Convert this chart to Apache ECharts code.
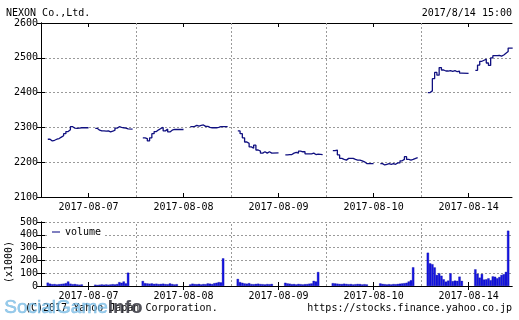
<!DOCTYPE html>
<html><head><meta charset="utf-8">
<script src="https://cdn.jsdelivr.net/npm/echarts@6/dist/echarts.min.js"></script>
<style>html,body{margin:0;padding:0;background:#fff}#c{width:519px;height:320px}</style>
</head><body><div id="c"></div>
<script>
const days = ['2017-08-07','2017-08-08','2017-08-09','2017-08-10','2017-08-14'];
const priceTicks = [2100,2200,2300,2400,2500,2600];
const volumeTicks = [0,100,200,300,400,500];
// prices sampled every 10 minutes, morning session 9:00-11:30
const priceAM = [
  [2266,2261,2263,2266,2268,2272,2276,2282,2288,2293,2302,2298,2297,2298,2299,2299],
  [2270,2268,2261,2270,2282,2288,2293,2297,2300,2290,2295,2287,2292,2294,2294,2294],
  [2290,2282,2270,2258,2254,2244,2240,2249,2235,2232,2226,2230,2226,2230,2226,2227],
  [2233,2235,2221,2211,2208,2206,2211,2211,2211,2208,2206,2206,2204,2201,2196,2196],
  [2400,2405,2440,2458,2450,2472,2465,2462,2462,2463,2461,2463,2460,2462,2456,2455]
];
// afternoon session 12:30-15:00
const pricePM = [
  [2297,2292,2290,2290,2289,2290,2287,2289,2292,2298,2302,2300,2299,2298,2296,2295],
  [2302,2303,2306,2304,2306,2307,2303,2303,2300,2299,2299,2299,2300,2302,2302,2302],
  [2221,2222,2222,2226,2228,2226,2232,2230,2230,2224,2224,2224,2226,2222,2223,2222],
  [2196,2192,2194,2196,2194,2196,2194,2198,2198,2204,2208,2216,2208,2206,2208,2213],
  [2464,2479,2490,2493,2496,2485,2478,2500,2506,2506,2507,2505,2508,2513,2518,2528]
];
// volume (x1000)
const volAM = [
  [26,18,14,15,12,14,16,18,22,35,18,14,15,12,10,12],
  [39,22,20,18,20,16,18,15,16,18,15,14,20,15,12,14],
  [55,30,25,20,18,22,15,14,16,18,15,14,12,15,14,16],
  [22,20,18,16,15,18,16,14,15,12,14,16,15,12,14,12],
  [260,177,170,145,86,100,80,52,34,42,99,38,42,40,73,40]
];
const volPM = [
  [10,8,10,12,10,12,10,12,14,12,15,30,25,35,20,104],
  [12,18,15,14,16,12,15,14,20,18,15,22,25,30,28,216],
  [25,20,18,14,15,12,16,14,12,14,15,18,20,40,35,109],
  [20,16,14,12,14,12,15,14,16,18,20,22,25,35,45,146],
  [130,95,65,94,50,52,60,45,75,72,60,70,86,92,110,432]
];

const DAY = 420;            // minutes from 8:30 to 15:30
const amT = k => 30 + 10 * k;
const pmT = k => 240 + k * 145 / 15;
const priceData = [], volData = [];
for (let d = 0; d < days.length; d++) {
  const o = d * DAY;
  priceAM[d].forEach((v, k) => priceData.push([o + amT(k), v]));
  priceData.push([o + 210, '-']);
  pricePM[d].forEach((v, k) => priceData.push([o + pmT(k), v]));
  priceData.push([o + 405, '-']);
  volAM[d].forEach((v, k) => volData.push([o + amT(k), v]));
  volPM[d].forEach((v, k) => volData.push([o + pmT(k), v]));
}
const mids = days.map((_, i) => DAY / 2 + DAY * i);
const bounds = [1, 2, 3, 4].map(i => ({ xAxis: DAY * i }));
const XMAX = 2082;
const FONT = '"DejaVu Sans Mono", monospace';
const grey = '#9a9a9a';
const dash = { color: grey, type: [2, 2], width: 1 };

function xAxes(gi, showLabels) {
  return [
    { gridIndex: gi, type: 'value', min: 0, max: XMAX, interval: DAY, position: 'bottom',
      axisLine: { show: true, lineStyle: { color: '#000' } },
      axisTick: { show: true, inside: true, length: 4, customValues: mids, lineStyle: { color: '#000' } },
      axisLabel: { show: showLabels, customValues: mids, margin: 5, fontFamily: FONT, fontSize: 10, color: '#000',
        formatter: v => days[Math.round((v - DAY / 2) / DAY)] },
      splitLine: { show: false } },
    { gridIndex: gi, type: 'value', min: 0, max: XMAX, interval: DAY, position: 'top',
      axisLine: { show: true, lineStyle: { color: '#000' } },
      axisTick: { show: true, inside: true, length: 4, customValues: mids, lineStyle: { color: '#000' } },
      axisLabel: { show: false }, splitLine: { show: false } }
  ];
}
function yAxes(gi, min, max) {
  return [
    { gridIndex: gi, type: 'value', min, max, interval: 100, position: 'left',
      axisLine: { show: true, lineStyle: { color: '#000' } },
      axisTick: { show: true, inside: true, length: 4, lineStyle: { color: '#000' } },
      axisLabel: { margin: 3, fontFamily: FONT, fontSize: 10, color: '#000', formatter: v => String(v) },
      splitLine: { show: true, lineStyle: dash } },
    { gridIndex: gi, type: 'value', min, max, interval: 100, position: 'right',
      axisLine: { show: true, lineStyle: { color: '#000' } },
      axisTick: { show: true, inside: true, length: 4, lineStyle: { color: '#000' } },
      axisLabel: { show: false }, splitLine: { show: false } }
  ];
}

const chart = echarts.init(document.getElementById('c'), null, { renderer: 'canvas' });
chart.setOption({
  animation: false,
  backgroundColor: '#fff',
  textStyle: { fontFamily: FONT },
  grid: [
    { left: 41, top: 23, width: 471, height: 174 },
    { left: 41, top: 222, width: 471, height: 64 }
  ],
  xAxis: [...xAxes(0, true), ...xAxes(1, true)],
  yAxis: [...yAxes(0, priceTicks[0], priceTicks[priceTicks.length - 1]),
          ...yAxes(1, volumeTicks[0], volumeTicks[volumeTicks.length - 1])],
  legend: {
    left: 49, top: 225, padding: [2, 3], itemGap: 4,
    backgroundColor: '#fff', itemWidth: 8, itemHeight: 1,
    textStyle: { fontFamily: FONT, fontSize: 10, color: '#000' },
    data: [{ name: 'volume', icon: 'rect', itemStyle: { color: '#000080', borderWidth: 0 } }]
  },
  series: [
    { name: 'price', type: 'line', xAxisIndex: 0, yAxisIndex: 0, data: priceData,
      step: 'end', showSymbol: false, connectNulls: false,
      lineStyle: { color: '#101080', width: 1.3 },
      markLine: { silent: true, symbol: 'none', label: { show: false }, lineStyle: dash, data: bounds } },
    { name: 'volume', type: 'bar', xAxisIndex: 2, yAxisIndex: 2, data: volData,
      barWidth: 2.3, barGap: '-100%',
      itemStyle: { color: '#1414e6', borderColor: '#000090', borderWidth: 0.3 },
      markLine: { silent: true, symbol: 'none', label: { show: false }, lineStyle: dash, data: bounds } }
  ],
  graphic: [
    { type: 'text', left: 6, top: 8, style: { text: 'NEXON Co.,Ltd.', font: '10px ' + FONT, fill: '#000' } },
    { type: 'text', right: 7, top: 8, style: { text: '2017/8/14 15:00', font: '10px ' + FONT, fill: '#000' } },
    { type: 'text', x: 9, y: 262, rotation: Math.PI / 2,
      style: { text: '(x1000)', font: '10px ' + FONT, fill: '#000', align: 'center', verticalAlign: 'middle' } },
    { type: 'text', left: 25, top: 303, style: { text: '(C)2017 Yahoo Japan Corporation.', font: '10px ' + FONT, fill: '#000' } },
    { type: 'text', right: 7, top: 303, style: { text: 'https://stocks.finance.yahoo.co.jp', font: '10px ' + FONT, fill: '#000' } },
    { type: 'text', left: 4, top: 298, z: 100,
      style: { text: '{a|SocialGame}{b|Info}', rich: {
        a: { font: '19px "Liberation Sans", Arial', fill: 'rgba(120,190,230,0.75)', stroke: 'rgba(70,150,210,0.6)', lineWidth: 0.6 },
        b: { font: 'bold 19px "Liberation Sans", Arial', fill: 'rgba(50,50,60,0.85)' } } } }
  ]
});
</script></body></html>
